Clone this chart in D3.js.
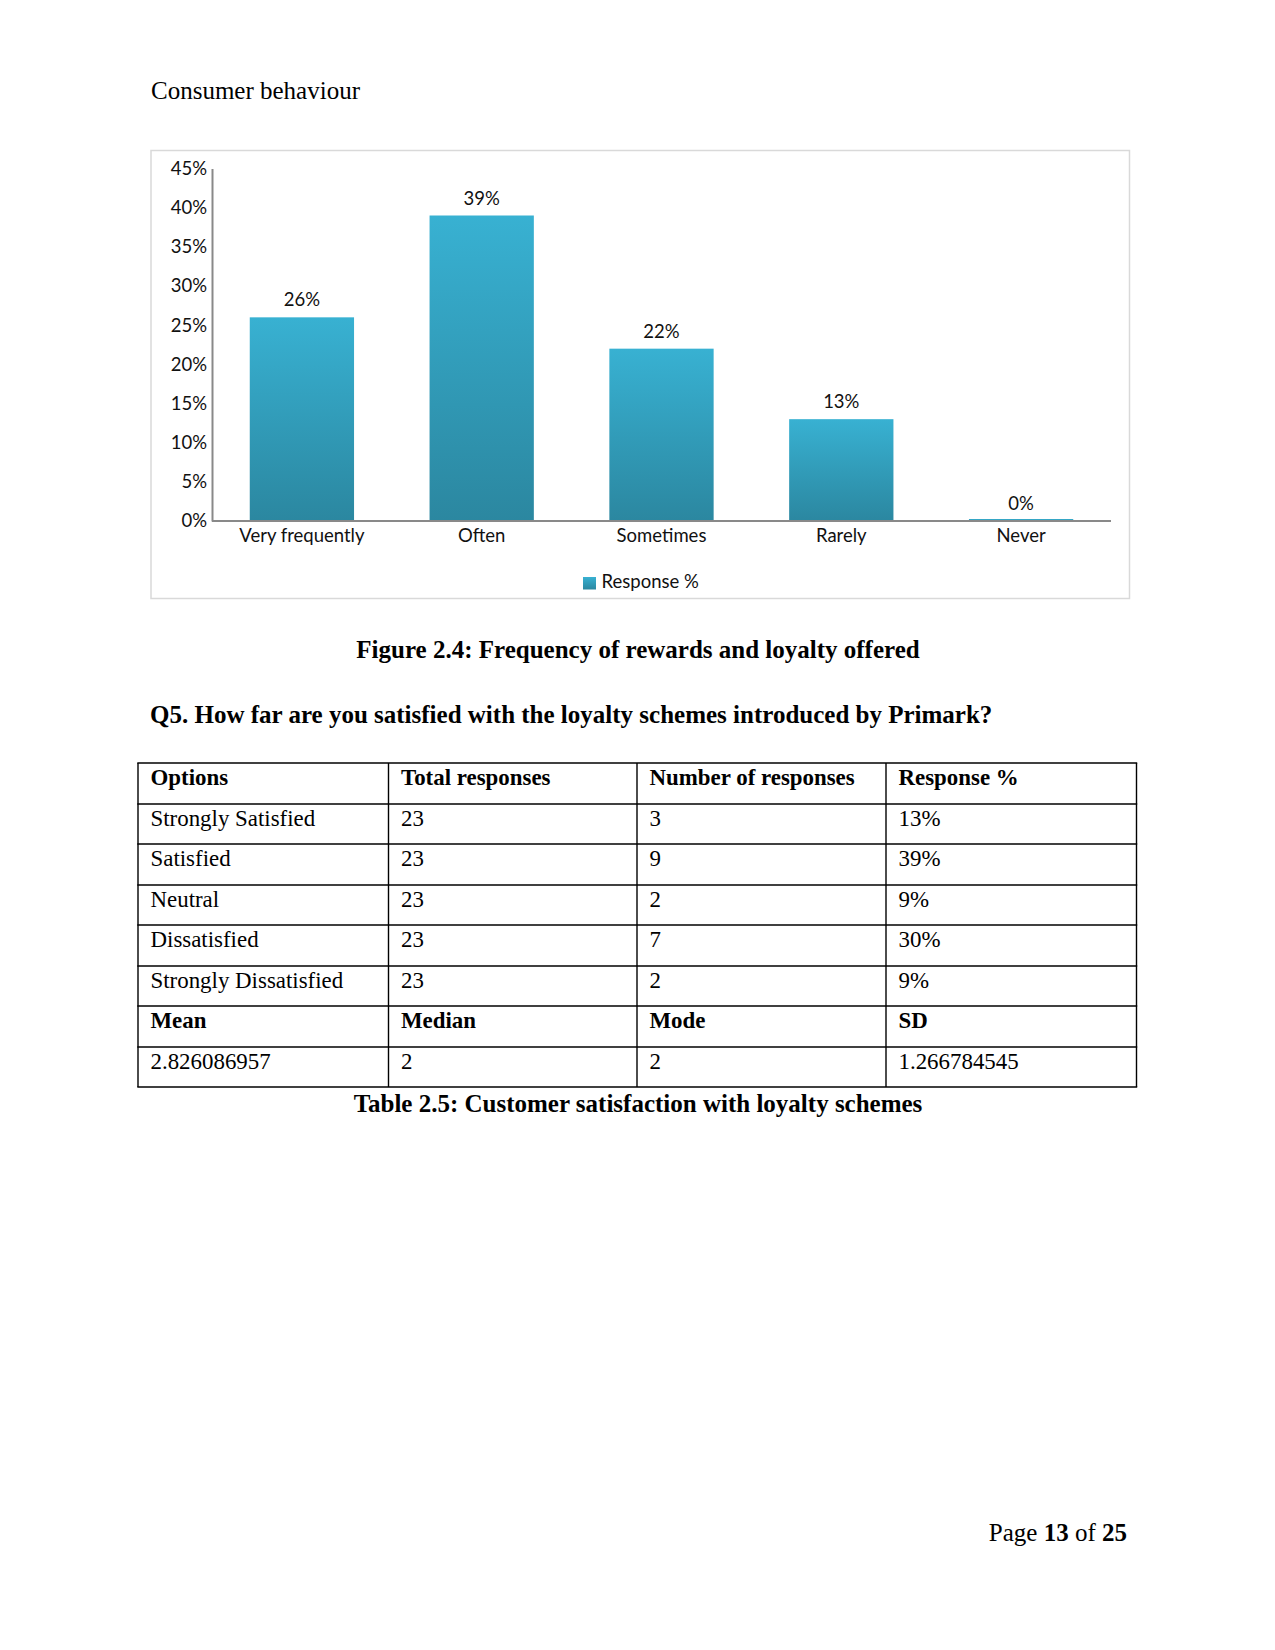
<!DOCTYPE html>
<html>
<head>
<meta charset="utf-8">
<script src="https://cdn.jsdelivr.net/npm/d3@7"></script>
<style>
  html, body { margin: 0; padding: 0; background: #fff; }
  svg { display: block; }
</style>
</head>
<body>
<div id="page"></div>
<script>
// ---------- Data ----------
const categories = ["Very frequently", "Often", "Sometimes", "Rarely", "Never"];
const responsePct = [0.26, 0.39, 0.22, 0.13, 0.00];
const valueLabels = ["26%", "39%", "22%", "13%", "0%"];
const yTicks = [0, 0.05, 0.10, 0.15, 0.20, 0.25, 0.30, 0.35, 0.40, 0.45];
const seriesName = "Response %";

const tableHeader = ["Options", "Total responses", "Number of responses", "Response %"];
const tableOptions = ["Strongly Satisfied", "Satisfied", "Neutral", "Dissatisfied", "Strongly Dissatisfied"];
const tableTotals = ["23", "23", "23", "23", "23"];
const tableCounts = ["3", "9", "2", "7", "2"];
const tablePcts = ["13%", "39%", "9%", "30%", "9%"];
const statsHeader = ["Mean", "Median", "Mode", "SD"];
const statsValues = ["2.826086957", "2", "2", "1.266784545"];

// ---------- Page ----------
const W = 1275, H = 1650;
const svg = d3.select("#page").append("svg").attr("width", W).attr("height", H);
svg.append("rect").attr("width", W).attr("height", H).attr("fill", "#fff");

const serif = "'Liberation Serif', 'Times New Roman', serif";
const sans = "Lato, 'Open Sans', sans-serif";
const chartText = "#111";

svg.append("text").attr("x", 151).attr("y", 98.5)
  .attr("font-family", serif).attr("font-size", 25).attr("fill", "#000")
  .text("Consumer behaviour");

// ---------- Chart ----------
const defs = svg.append("defs");
const grad = defs.append("linearGradient").attr("id", "barGrad")
  .attr("x1", 0).attr("y1", 0).attr("x2", 0).attr("y2", 1);
grad.append("stop").attr("offset", "0%").attr("stop-color", "#38b1d2");
grad.append("stop").attr("offset", "100%").attr("stop-color", "#2b87a0");

svg.append("rect").attr("x", 151).attr("y", 150.5).attr("width", 978.5).attr("height", 448)
  .attr("fill", "#fff").attr("stroke", "#d9d9d9").attr("stroke-width", 1.5);

const plotLeft = 212, plotRight = 1111, plotTop = 168.5, plotBottom = 521;
const x = d3.scaleBand().domain(categories).range([plotLeft, plotRight])
  .paddingInner(0.42).paddingOuter(0.21);
const y = d3.scaleLinear().domain([0, 0.45]).range([plotBottom, plotTop]);

const g = svg.append("g");

// bars
g.selectAll("rect.bar").data(categories).enter().append("rect")
  .attr("class", "bar")
  .attr("x", d => x(d))
  .attr("width", x.bandwidth())
  .attr("y", (d, i) => Math.min(y(responsePct[i]), plotBottom - 2))
  .attr("height", (d, i) => Math.max(plotBottom - y(responsePct[i]), 2))
  .attr("fill", "url(#barGrad)");

// y axis
const yAxis = d3.axisLeft(y).tickValues(yTicks).tickSize(0).tickPadding(5)
  .tickFormat(d3.format(".0%"));
const yg = g.append("g").attr("transform", `translate(${plotLeft},0)`).call(yAxis);
yg.select(".domain").attr("stroke", "#898989").attr("stroke-width", 2);
yg.selectAll("text").attr("font-family", sans).attr("font-size", 18.5).attr("fill", chartText);

// x axis
const xAxis = d3.axisBottom(x).tickSize(0).tickPadding(8);
const xg = g.append("g").attr("transform", `translate(0,${plotBottom})`).call(xAxis);
xg.select(".domain").attr("d", `M${plotLeft},0H${plotRight}`)
  .attr("stroke", "#898989").attr("stroke-width", 2);
xg.selectAll("text").attr("font-family", sans).attr("font-size", 18.5).attr("fill", chartText);

// value labels
g.selectAll("text.val").data(categories).enter().append("text")
  .attr("class", "val")
  .attr("x", d => x(d) + x.bandwidth() / 2)
  .attr("y", (d, i) => y(responsePct[i]) - 11)
  .attr("text-anchor", "middle")
  .attr("font-family", sans).attr("font-size", 18.5).attr("fill", chartText)
  .text((d, i) => valueLabels[i]);

// legend
const lg = svg.append("g").attr("transform", "translate(583,577)");
lg.append("rect").attr("width", 13).attr("height", 12.5).attr("fill", "url(#barGrad)");
lg.append("text").attr("x", 18.5).attr("y", 11)
  .attr("font-family", sans).attr("font-size", 18.5).attr("fill", chartText)
  .text(seriesName);

// ---------- Captions ----------
svg.append("text").attr("x", 638).attr("y", 658)
  .attr("text-anchor", "middle").attr("font-family", serif).attr("font-weight", "bold")
  .attr("font-size", 25).attr("fill", "#000")
  .text("Figure 2.4: Frequency of rewards and loyalty offered");

svg.append("text").attr("x", 150).attr("y", 723)
  .attr("font-family", serif).attr("font-weight", "bold")
  .attr("font-size", 25).attr("fill", "#000")
  .text("Q5. How far are you satisfied with the loyalty schemes introduced by Primark?");

// ---------- Table ----------
const colX = [138, 388.5, 637, 886, 1136.5];
const rowY = [763, 804, 844, 885, 925, 966, 1006, 1047, 1087];

const rows = [];
rows.push({ cells: tableHeader, bold: true });
tableOptions.forEach((o, i) => rows.push({ cells: [o, tableTotals[i], tableCounts[i], tablePcts[i]], bold: false }));
rows.push({ cells: statsHeader, bold: true });
rows.push({ cells: statsValues, bold: false });

const tg = svg.append("g");
rowY.forEach(yy => {
  tg.append("line").attr("x1", colX[0] - 0.7).attr("x2", colX[4] + 0.7)
    .attr("y1", yy).attr("y2", yy).attr("stroke", "#000").attr("stroke-width", 1.4);
});
colX.forEach(xx => {
  tg.append("line").attr("x1", xx).attr("x2", xx)
    .attr("y1", rowY[0]).attr("y2", rowY[rowY.length - 1]).attr("stroke", "#000").attr("stroke-width", 1.4);
});
rows.forEach((r, ri) => {
  r.cells.forEach((c, ci) => {
    tg.append("text").attr("x", colX[ci] + 12.5).attr("y", rowY[ri] + 21.5)
      .attr("font-family", serif).attr("font-size", 22.9)
      .attr("font-weight", r.bold ? "bold" : "normal").attr("fill", "#000")
      .text(c);
  });
});

svg.append("text").attr("x", 638).attr("y", 1112)
  .attr("text-anchor", "middle").attr("font-family", serif).attr("font-weight", "bold")
  .attr("font-size", 25).attr("fill", "#000")
  .text("Table 2.5: Customer satisfaction with loyalty schemes");

// ---------- Footer ----------
const ft = svg.append("text").attr("x", 1127).attr("y", 1540.5).attr("text-anchor", "end")
  .attr("font-family", serif).attr("font-size", 25).attr("fill", "#000");
ft.append("tspan").text("Page ");
ft.append("tspan").attr("font-weight", "bold").text("13");
ft.append("tspan").text(" of ");
ft.append("tspan").attr("font-weight", "bold").text("25");
</script>
</body>
</html>
